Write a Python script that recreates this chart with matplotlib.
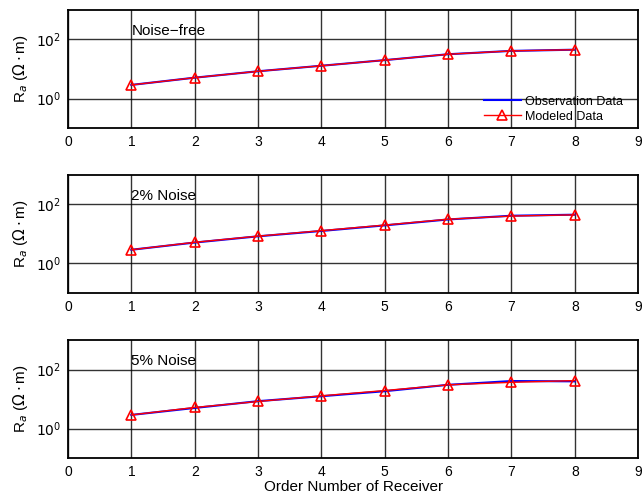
import matplotlib.pyplot as plt

plt.rcParams['font.family'] = ['Liberation Sans', 'DejaVu Sans']

receivers = [1, 2, 3, 4, 5, 6, 7, 8]
titles = ['Noise\u2212free', '2% Noise', '5% Noise']

# apparent resistivity, observed and modeled (ohm m)
obs_free = [2.9, 5.1, 8.4, 12.9, 20.0, 31.6, 41.0, 45.0]
mod_free = [2.9, 5.1, 8.4, 12.9, 20.0, 31.6, 41.0, 45.0]
obs_2 = [2.9, 5.1, 8.3, 12.6, 19.5, 31.0, 41.5, 45.0]
mod_2 = [2.9, 5.2, 8.4, 12.9, 20.0, 31.6, 40.5, 44.5]
obs_5 = [2.9, 5.0, 8.5, 12.5, 18.5, 30.5, 41.0, 40.0]
mod_5 = [2.9, 5.2, 8.3, 12.9, 19.5, 30.5, 37.0, 42.5]

obs_all = [obs_free, obs_2, obs_5]
mod_all = [mod_free, mod_2, mod_5]

fig = plt.figure(figsize=(6.42, 4.93), dpi=100)
boxes = [(0.740, 0.980), (0.406, 0.645), (0.071, 0.310)]

for i in range(3):
    bot, top = boxes[i]
    ax = fig.add_axes([0.106, bot, 0.888, top - bot])
    ax.plot(receivers, obs_all[i], color='blue', lw=1.5, label='Observation Data')
    ax.plot(receivers, mod_all[i], color='red', lw=1, marker='^', ms=7,
            mfc='none', mec='red', mew=1.2, label='Modeled Data')
    ax.set_yscale('log')
    ax.set_ylim(0.1, 1000)
    ax.set_xlim(0, 9)
    ax.set_xticks(range(0, 10))
    ax.set_yticks([1, 100])
    ax.set_yticklabels(['$10^0$', '$10^2$'])
    ax.minorticks_off()
    ax.grid(True, color='black', lw=1, alpha=0.8)
    ax.tick_params(labelsize=10, length=0, pad=5)
    for s in ax.spines.values():
        s.set_linewidth(1.3)
    ax.set_ylabel('R$_a$ ($\\Omega\\cdot$m)', fontsize=11)
    ax.text(1, 110, titles[i], fontsize=11, ha='left', va='bottom')
    if i == 0:
        ax.legend(loc='lower right', bbox_to_anchor=(0.993, -0.05), frameon=False,
                  fontsize=9, handlelength=3.0, handletextpad=0.3,
                  labelspacing=0.25)
    if i == 2:
        ax.set_xlabel('Order Number of Receiver', fontsize=11, labelpad=1)

fig.savefig('out.png', dpi=100)
